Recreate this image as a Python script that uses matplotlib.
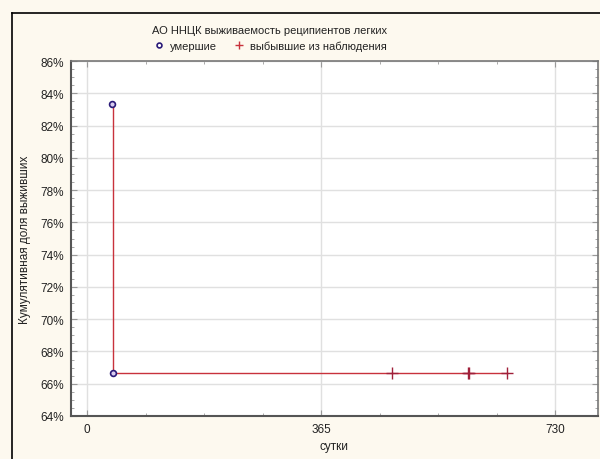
import matplotlib
matplotlib.use("Agg")
import matplotlib.pyplot as plt
from matplotlib.lines import Line2D
from matplotlib.ticker import FixedLocator, MultipleLocator, FuncFormatter

plt.rcParams['font.family'] = ['Liberation Sans', 'DejaVu Sans']

# Survival data (days, cumulative proportion surviving)
death_days = [39, 41]
death_surv = [0.8333, 0.6667]
censor_days = [475, 594, 596, 655]
censor_surv = [0.6667, 0.6667, 0.6667, 0.6667]

x_ticks = [0, 365, 730]
y_ticks = [0.64, 0.66, 0.68, 0.70, 0.72, 0.74, 0.76, 0.78, 0.80, 0.82, 0.84, 0.86]

title = "АО ННЦК выживаемость реципиентов легких"
legend_labels = ["умершие", "выбывшие из наблюдения"]
xlabel = "сутки"
ylabel = "Кумулятивная доля выживших"

bg = "#fdf9ef"
line_red = "#c8323c"
cross_red = "#a0203a"
circ_edge = "#2a1a78"

fig = plt.figure(figsize=(6.0, 4.6), dpi=100, facecolor=bg)
# outer frame (top and left edges)
fx, fy = 11.5 / 600, 1 - 13.5 / 460
fig.add_artist(Line2D([fx, 1.0], [fy, fy], transform=fig.transFigure, color="black", lw=1.2))
fig.add_artist(Line2D([fx, fx], [0.0, fy], transform=fig.transFigure, color="black", lw=1.2))

ax = fig.add_axes([71 / 600, 1 - 417 / 460, 527 / 600, (417 - 62) / 460])
ax.set_facecolor("white")

# survival step curve
all_days = death_days + censor_days
all_surv = death_surv + censor_surv
ax.plot(all_days, all_surv, drawstyle="steps-post", color=line_red, lw=1.0, zorder=3)
ax.plot(censor_days, censor_surv, linestyle="none", marker="+", ms=8, mew=1.0,
        color=cross_red, zorder=4)
ax.plot(death_days, death_surv, linestyle="none", marker="o", ms=4.2, mew=1.2,
        mec=circ_edge, mfc="#d8ccf0", zorder=5)

ax.set_xlim(-25, 797)
ax.set_ylim(0.64, 0.86)
ax.xaxis.set_major_locator(FixedLocator(x_ticks))
ax.xaxis.set_minor_locator(MultipleLocator(365 / 4))
ax.yaxis.set_major_locator(FixedLocator(y_ticks))
ax.yaxis.set_minor_locator(MultipleLocator(0.005))
ax.yaxis.set_major_formatter(FuncFormatter(lambda v, p: f"{v * 100:.0f}%"))

ax.grid(True, which="major", color="#e0e0e0", lw=1.0, zorder=0)
ax.set_axisbelow(True)
ax.tick_params(which="both", direction="in", top=True, right=True,
               colors="#999999", labelcolor="#222222", labelsize=8.5)
ax.tick_params(which="major", length=4, pad=5)
ax.tick_params(which="minor", length=2)
for s in ["left", "bottom"]:
    ax.spines[s].set_color("#555555")
    ax.spines[s].set_linewidth(1.5)
for s in ["top", "right"]:
    ax.spines[s].set_color("#777777")
    ax.spines[s].set_linewidth(1.2)

ax.set_xlabel(xlabel, fontsize=8.5, color="#222222", labelpad=4)
ax.set_ylabel(ylabel, fontsize=8.5, color="#222222", labelpad=7)

fig.text(270 / 600, 1 - 31 / 460, title, ha="center", va="center",
         fontsize=8, color="#222222")
handles = [
    Line2D([], [], linestyle="none", marker="o", ms=3.5, mew=1.2, mec=circ_edge, mfc="white"),
    Line2D([], [], linestyle="none", marker="+", ms=6, mew=1.0, color=line_red),
]
fig.legend(handles, legend_labels, loc="center", bbox_to_anchor=(270 / 600, 1 - 47 / 460),
           ncol=2, frameon=False, fontsize=8, handlelength=1.0, handletextpad=0.5,
           columnspacing=1.5, borderpad=0, labelcolor="#222222")

fig.savefig("out.png", dpi=100, facecolor=bg)
